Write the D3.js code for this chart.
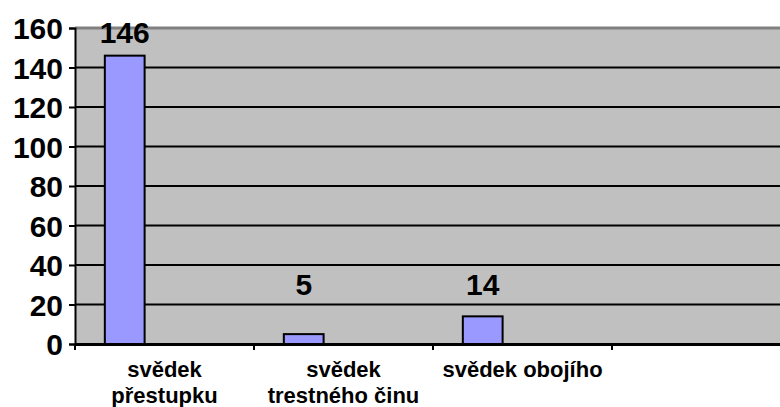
<!DOCTYPE html>
<html lang="cs">
<head>
<meta charset="UTF-8">
<script src="https://cdn.jsdelivr.net/npm/d3@7"></script>
<style>
	body { margin: 0; background: #fff; }
	text { font-family: Arial, "Liberation Sans", sans-serif; font-weight: bold; fill: #000; }
</style>
</head>
<body>
<div id="chart"></div>
<script>
	const categories = [['svědek', 'přestupku'], ['svědek', 'trestného činu'], ['svědek obojího'], ['']];
	const values = [146, 5, 14, null];
	const yTicks = [0, 20, 40, 60, 80, 100, 120, 140, 160];

	const width = 780, height = 407;
	const plotLeft = 75, plotTop = 28, plotBottom = 344;
	const slot = 179;

	const svg = d3.select('#chart').append('svg')
		.attr('width', width)
		.attr('height', height);

	const x = d3.scaleBand()
		.domain(d3.range(categories.length))
		.range([plotLeft, plotLeft + slot * categories.length])
		.padding(0);

	const y = d3.scaleLinear()
		.domain([0, 160])
		.range([plotBottom, plotTop]);

	// plot area
	svg.append('rect')
		.attr('x', plotLeft).attr('y', plotTop)
		.attr('width', x.range()[1] - plotLeft)
		.attr('height', plotBottom - plotTop)
		.attr('fill', '#c0c0c0');

	// gridlines
	svg.append('g')
		.selectAll('line')
		.data(yTicks.slice(1, -1))
		.join('line')
		.attr('x1', plotLeft).attr('x2', x.range()[1])
		.attr('y1', d => y(d)).attr('y2', d => y(d))
		.attr('stroke', '#000')
		.attr('stroke-width', 2);

	svg.append('line')
		.attr('x1', plotLeft).attr('x2', x.range()[1])
		.attr('y1', y(160)).attr('y2', y(160))
		.attr('stroke', '#808080')
		.attr('stroke-width', 3);

	// bars (first of three series slots in each cluster)
	const bw = x.bandwidth() / 4.5;
	const bars = categories.map((c, i) => ({ i, v: values[i] })).filter(d => d.v != null);

	svg.append('g')
		.selectAll('rect')
		.data(bars)
		.join('rect')
		.attr('x', d => x(d.i) + bw * 0.75)
		.attr('y', d => y(d.v))
		.attr('width', bw)
		.attr('height', d => y(0) - y(d.v))
		.attr('fill', '#9999ff')
		.attr('stroke', '#000')
		.attr('stroke-width', 2);

	svg.append('g')
		.selectAll('text')
		.data(bars)
		.join('text')
		.attr('x', d => x(d.i) + bw * 1.25)
		.attr('y', d => y(Math.max(d.v, 18)) - 13)
		.attr('text-anchor', 'middle')
		.style('font-size', '30px')
		.text(d => d.v);

	// y axis
	const axisY = d3.axisLeft(y).tickValues(yTicks).tickSize(6).tickPadding(6);
	const gy = svg.append('g')
		.attr('transform', `translate(${plotLeft},0)`)
		.call(axisY);
	gy.select('.domain').attr('stroke-width', 2);
	gy.selectAll('.tick line').attr('stroke-width', 2);
	gy.selectAll('.tick text')
		.attr('font-family', null)
		.attr('font-size', null)
		.style('font-size', '30px')
		.attr('dy', '0.35em');

	// x axis
	const axisX = d3.axisBottom(x).tickSize(0).tickFormat('');
	const gx = svg.append('g')
		.attr('transform', `translate(0,${plotBottom})`)
		.call(axisX);
	gx.select('.domain').attr('stroke-width', 3);

	gx.selectAll('.sep')
		.data(d3.range(categories.length + 1))
		.join('line')
		.attr('class', 'sep')
		.attr('x1', d => plotLeft + slot * d).attr('x2', d => plotLeft + slot * d)
		.attr('y1', 0).attr('y2', 6)
		.attr('stroke', '#000')
		.attr('stroke-width', 2);

	const labels = svg.append('g')
		.selectAll('text')
		.data(categories.map((c, i) => ({ c, i })))
		.join('text')
		.attr('text-anchor', 'middle')
		.style('font-size', '22px')
		.attr('transform', d => `translate(${x(d.i) + x.bandwidth() / 2},377)`);

	labels.selectAll('tspan')
		.data(d => d.c)
		.join('tspan')
		.attr('x', 0)
		.attr('y', (d, j) => j * 26)
		.text(d => d);
</script>
</body>
</html>
